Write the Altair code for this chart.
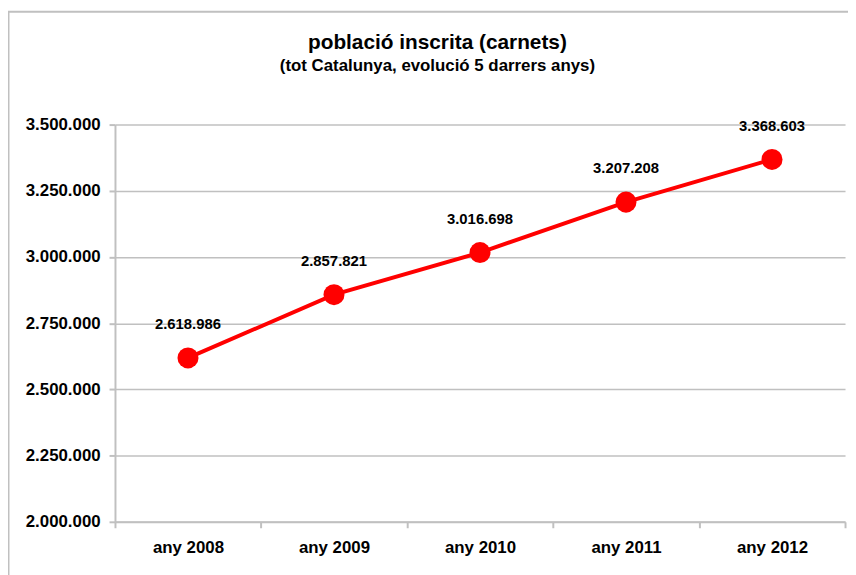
import altair as alt
import pandas as pd

years = ["any 2008", "any 2009", "any 2010", "any 2011", "any 2012"]
values = [2618986, 2857821, 3016698, 3207208, 3368603]
y_ticks = [2000000, 2250000, 2500000, 2750000, 3000000, 3250000, 3500000]

df = pd.DataFrame({"any": years, "valor": values})

FONT = "Liberation Sans"
GRAY = "#c0c0c0"
RED = "#ff0000"

x_enc = alt.X(
    "any:N", sort=years, title=None,
    scale=alt.Scale(type="band", paddingInner=0, paddingOuter=0),
    axis=alt.Axis(
        labelAngle=0, labelFont=FONT, labelFontSize=17, labelFontWeight="bold",
        labelColor="black", labelPadding=12, tickBand="extent",
        domainColor=GRAY, domainWidth=2, tickColor=GRAY, tickWidth=2, tickSize=6,
        grid=False,
    ),
)
y_enc = alt.Y(
    "valor:Q", title=None,
    scale=alt.Scale(domain=[2000000, 3500000], nice=False, zero=False),
    axis=alt.Axis(
        values=y_ticks, format=",d", labelFont=FONT, labelFontSize=17,
        labelFontWeight="bold", labelColor="black", labelPadding=9,
        domainColor=GRAY, domainWidth=2, tickColor=GRAY, tickWidth=2, tickSize=6,
        grid=True, gridColor=GRAY, gridWidth=1.5,
    ),
)

base = alt.Chart(df).encode(x=x_enc, y=y_enc)
line = base.mark_line(color=RED, strokeWidth=4)
pts = base.mark_circle(color=RED, size=450, opacity=1)
labels = base.mark_text(
    dy=-34, font=FONT, fontSize=15, fontWeight="bold", color="black"
).encode(text=alt.Text("valor:Q", format=",d"))

border = alt.Chart(pd.DataFrame({"b": [0]})).mark_rect(
    fillOpacity=0, stroke=GRAY, strokeWidth=2
).encode(
    x=alt.value(-107.5), x2=alt.value(800), y=alt.value(-114), y2=alt.value(500)
)

chart = alt.layer(border, line, pts, labels).properties(
    width=737, height=401,
    title=alt.TitleParams(
        text="població inscrita (carnets)",
        subtitle="(tot Catalunya, evolució 5 darrers anys)",
        font=FONT, fontSize=21, fontWeight="bold", color="black",
        subtitleFont=FONT, subtitleFontSize=17, subtitleFontWeight="bold",
        subtitleColor="black", subtitlePadding=5,
        anchor="middle", frame="group", dx=-43, offset=-64,
    ),
    autosize=alt.AutoSizeParams(type="none"),
    padding={"left": 108, "top": 115, "right": 3, "bottom": 51},
).configure(
    locale={"number": {"decimal": ",", "thousands": ".", "grouping": [3],
                       "currency": ["", " €"]}}
).configure_view(strokeWidth=0)

chart.save("out.html", embed_options={"renderer": "svg", "actions": False})
